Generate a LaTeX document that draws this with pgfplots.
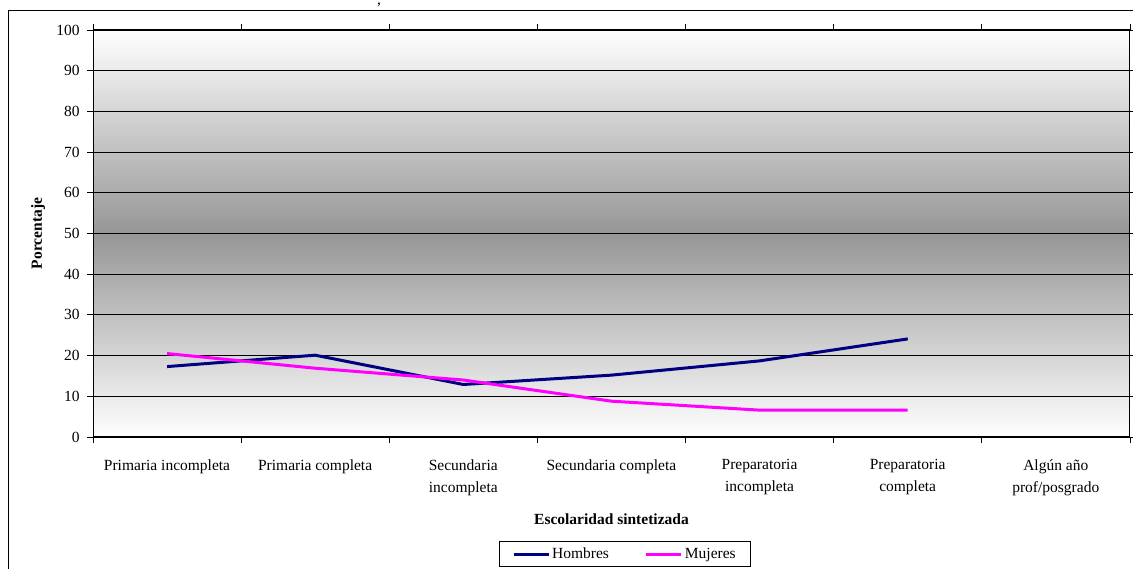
\documentclass[border=0pt]{standalone}
\usepackage{fontspec}
\setmainfont{Liberation Serif}
\usepackage{pgfplots}
\pgfplotsset{compat=1.18}
\definecolor{hombres}{RGB}{0,0,128}
\definecolor{mujeres}{RGB}{255,0,255}
\definecolor{bgmid}{RGB}{150,150,150}

\begin{document}
\fontsize{15.5}{18}\selectfont
\begin{tikzpicture}[x=1pt,y=1pt]
\path[use as bounding box] (0,0) rectangle (1133,569);
% chart area frame
\draw[line width=1pt] (8,-10) -- (8,558) -- (1145,558);
\node[inner sep=1pt, anchor=north] at (379,567) {,};
\begin{axis}[
  at={(93pt,132pt)}, anchor=south west,
  scale only axis, width=1037pt, height=407pt,
  xmin=0, xmax=7, ymin=0, ymax=100,
  ytick={0,10,...,100},
  xtick={0,...,7},
  xticklabels={Primaria incompleta, Primaria completa, Secundaria\\incompleta,
    Secundaria completa, Preparatoria\\incompleta, Preparatoria\\completa,
    Algún año\\prof/posgrado, {}},
  xticklabel style={xshift=74pt, yshift=-11pt, align=center,
    font=\fontsize{15.5}{22}\selectfont},
  yticklabel style={xshift=-2pt},
  /pgf/number format/assume math mode=true,
  tick align=outside, major tick length=6pt,
  tick style={black, line width=0.8pt},
  ymajorgrids, grid style={black, line width=0.8pt},
  axis line style={black, line width=1pt},
  axis background/.style={top color=white, bottom color=white, middle color=bgmid},
  ylabel={\bfseries Porcentaje},
  ylabel style={at={(axis description cs:-0.053,0.5)}, anchor=center},
  xlabel={\bfseries Escolaridad sintetizada},
  xlabel style={at={(axis description cs:0.5,-0.2015)}, anchor=center},
  legend columns=2,
  legend style={at={(axis description cs:0.513,-0.288)}, anchor=center,
    draw=black, line width=0.8pt, inner xsep=13pt, inner ysep=4pt,
    /tikz/every even column/.append style={column sep=34pt}},
  legend image code/.code={\draw[#1] (0pt,0pt) -- (35pt,0pt);},
]
\addplot[hombres, line width=3pt] coordinates {
  (0.5,17.3) (1.5,20.1) (2.5,12.9) (3.5,15.2) (4.5,18.7) (5.5,24.1)};
\addlegendentry{Hombres}
\addplot[mujeres, line width=3pt] coordinates {
  (0.5,20.5) (1.5,16.9) (2.5,14.0) (3.5,8.8) (4.5,6.6) (5.5,6.6)};
\addlegendentry{Mujeres}
\end{axis}
\end{tikzpicture}
\end{document}
